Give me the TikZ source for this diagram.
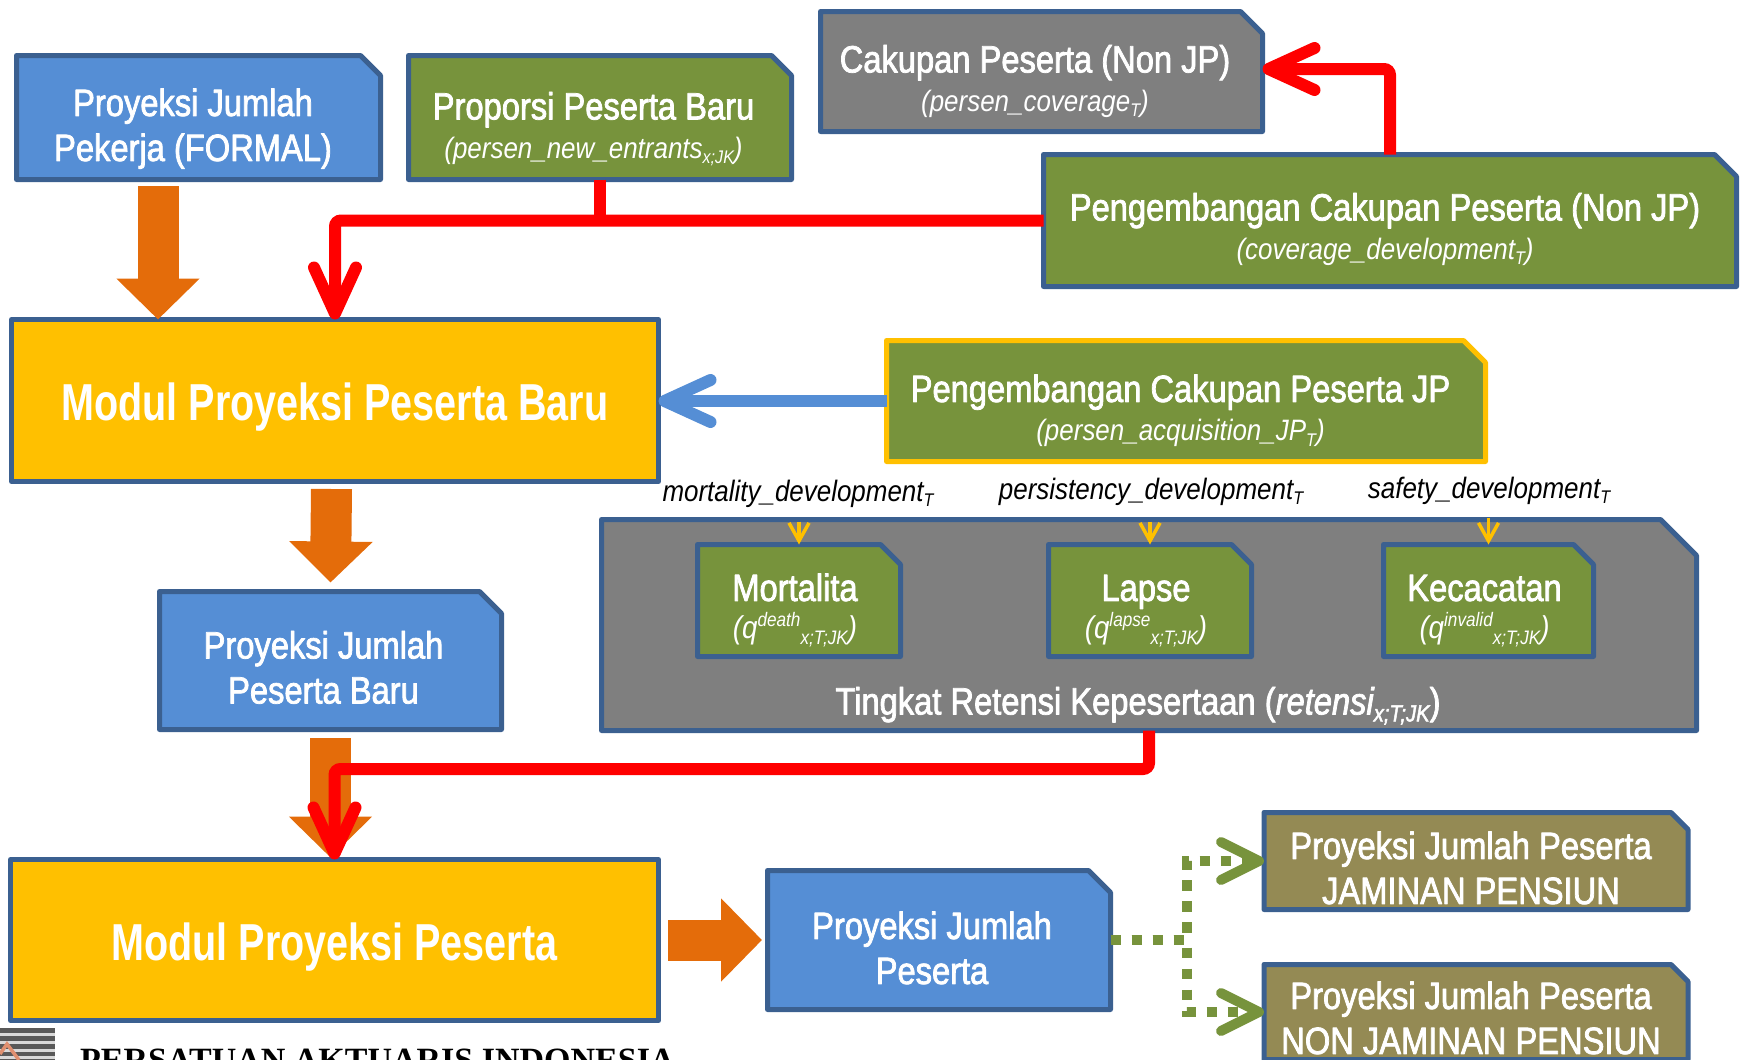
\documentclass[tikz,border=0pt]{standalone}
\usepackage{fontspec}
\usepackage{graphicx}
\usetikzlibrary{arrows.meta}
\setmainfont{Liberation Sans}
\newfontfamily\nf[FakeStretch=0.86,FakeBold=2]{Liberation Sans}
\newfontfamily\nb[FakeStretch=0.76]{Liberation Sans}
\newfontfamily\nl[FakeStretch=0.88]{Liberation Sans}
\newfontfamily\srf{Liberation Serif}
\definecolor{bd}{HTML}{3B6090}
\definecolor{blu}{HTML}{558ED5}
\definecolor{grn}{HTML}{77933C}
\definecolor{org}{HTML}{E46C0A}
\definecolor{yel}{HTML}{FFC000}
\definecolor{gry}{HTML}{7F7F7F}
\definecolor{oli}{HTML}{948A54}
\definecolor{sal}{RGB}{224,144,112}
\def\snipsize{20pt}
\makeatletter
\pgfdeclareshape{snipbox}{
  \inheritsavedanchors[from=rectangle]
  \inheritanchorborder[from=rectangle]
  \inheritanchor[from=rectangle]{center}
  \inheritanchor[from=rectangle]{north}
  \inheritanchor[from=rectangle]{south}
  \inheritanchor[from=rectangle]{east}
  \inheritanchor[from=rectangle]{west}
  \savedmacro\snipsz{\edef\snipsz{\snipsize}}
  \backgroundpath{
    \southwest \pgf@xa=\pgf@x \pgf@ya=\pgf@y
    \northeast \pgf@xb=\pgf@x \pgf@yb=\pgf@y
    \pgfpathmoveto{\pgfqpoint{\pgf@xa}{\pgf@ya}}
    \pgfpathlineto{\pgfqpoint{\pgf@xa}{\pgf@yb}}
    \pgfpathlineto{\pgfpoint{\pgf@xb-\snipsz}{\pgf@yb}}
    \pgfpathlineto{\pgfpoint{\pgf@xb}{\pgf@yb-\snipsz}}
    \pgfpathlineto{\pgfqpoint{\pgf@xb}{\pgf@ya}}
    \pgfpathclose
  }
}
\makeatother
\newcommand\tshift[3]{\raisebox{\dimexpr -#2pt - 2.5pt\relax}[0pt][0pt]{\makebox[0pt]{\hspace*{#1pt}\hspace*{#1pt}\begin{tabular}{@{}c@{}}#3\end{tabular}}}}
\newcommand\sbs[1]{\raisebox{-.35ex}{\scalebox{.62}{#1}}}
\newcommand\sps[1]{\raisebox{.75ex}{\scalebox{.62}{#1}}}
\newcommand\subl[1]{{\fontsize{29.5}{30}\selectfont\nl\itshape #1}}
\newcommand\subs[1]{{\fontsize{31.5}{29}\selectfont\nl\itshape #1}}
\tikzset{
  x=1pt,y=-1pt,
  snip/.style n args={3}{shape=snipbox,/utils/exec={\def\snipsize{#3pt}},
    draw=bd,line width=5pt,line join=round,inner sep=0pt,outer sep=0pt,
    minimum width=#1pt,minimum height=#2pt,text=white,
    font=\fontsize{38}{41}\selectfont\nf},
  plain/.style n args={2}{rectangle,draw=bd,line width=5pt,line join=round,inner sep=0pt,outer sep=0pt,
    minimum width=#1pt,minimum height=#2pt,text=white,
    font=\fontsize{52}{52}\selectfont\nb\bfseries},
  lab/.style={inner sep=0pt,font=\fontsize{29.5}{29}\selectfont\nl\itshape,text=black},
  redline/.style={draw=red,line width=12pt,rounded corners=6pt,
    -{Straight Barb[length=46pt,width=42pt,line width=12pt,round]}},
  redplain/.style={draw=red,line width=12pt,rounded corners=6pt},
  bluline/.style={draw=blu,line width=12pt,
    -{Straight Barb[length=46pt,width=42pt,line width=12pt,round]}},
  orgarrow/.style={draw=org,line width=41pt,-{Triangle[length=41pt,width=81pt]}},
  yelarrow/.style={draw=yel,line width=3.5pt,-{Straight Barb[length=18pt,width=20pt,line width=3.5pt]}},
  dots/.style={draw=grn,line width=10pt,dash pattern=on 10.5pt off 10.5pt,
    -{Straight Barb[length=38pt,width=38pt,line width=10pt,round]}}
}
\begin{document}
\begin{tikzpicture}
\useasboundingbox (0,0) rectangle (1741,1060);
% boxes
\node[snip={364}{124}{20},fill=blu] (a) at (198.5,117.5) {\tshift{-5.5}{16.5}{Proyeksi Jumlah\\[4pt]Pekerja (FORMAL)}};
\node[snip={383}{124}{20},fill=grn] (prop) at (600,117.5) {\tshift{-6.5}{17}{Proporsi Peserta Baru\\[-2pt]\subl{(persen\_new\_entrants\sbs{x;JK})}}};
\node[snip={442}{120}{22},fill=gry] (cak) at (1041.5,71.5) {\tshift{-6.5}{16}{Cakupan Peserta (Non JP)\\[-2pt]\subl{(persen\_coverage\sbs{T})}}};
\node[snip={693}{132}{22},fill=grn] (dev) at (1390,220.5) {\tshift{-5}{15}{Pengembangan Cakupan Peserta (Non JP)\\[-2pt]\subl{(coverage\_development\sbs{T})}}};
\node[plain={647}{162},fill=yel] (baru) at (335,400.5) {\tshift{0}{13}{Modul Proyeksi Peserta Baru}};
\node[snip={599}{121}{22},fill=grn,draw=yel] (jp) at (1186,401) {\tshift{-5.5}{16}{Pengembangan Cakupan Peserta JP\\[-2pt]\subl{(persen\_acquisition\_JP\sbs{T})}}};
\node[snip={342}{138}{22},fill=blu] (pb) at (330.5,660.5) {\tshift{-7}{16}{Proyeksi Jumlah\\[4pt]Peserta Baru}};
\node[snip={1095}{211}{36},fill=gry] (ret) at (1149,625) {\tshift{-11}{85}{Tingkat Retensi Kepesertaan (\textit{retensi\sbs{x;T;JK}})}};
\node[snip={203}{112}{20},fill=grn] (mor) at (799,600.5) {\tshift{-4}{15}{Mortalita\\[-3pt]\subs{(q\sps{death}\sbs{x;T;JK})}}};
\node[snip={203}{112}{20},fill=grn] (lap) at (1150,600.5) {\tshift{-4}{15}{Lapse\\[-3pt]\subs{(q\sps{lapse}\sbs{x;T;JK})}}};
\node[snip={210}{112}{20},fill=grn] (kec) at (1488.5,600.5) {\tshift{-4}{15}{Kecacatan\\[-3pt]\subs{(q\sps{invalid}\sbs{x;T;JK})}}};
\node[plain={648}{161},fill=yel] (mp) at (334.5,940) {\tshift{0}{13}{Modul Proyeksi Peserta}};
\node[snip={343}{139}{22},fill=blu] (prj) at (939,940) {\tshift{-7}{17}{Proyeksi Jumlah\\[4pt]Peserta}};
\node[snip={424}{97}{17},fill=oli] (jam) at (1476,861) {\tshift{-5}{16}{Proyeksi Jumlah Peserta\\[4pt]JAMINAN PENSIUN}};
\node[snip={424}{95}{17},fill=oli] (non) at (1476,1012) {\tshift{-5}{15}{Proyeksi Jumlah Peserta\\[4pt]NON JAMINAN PENSIUN}};
% labels above retention box
\node[lab] (lm) at (798,493.5) {mortality\_development\sbs{T}};
\node[lab] (ll) at (1151,491.5) {persistency\_development\sbs{T}};
\node[lab] (ls) at (1489,490.5) {safety\_development\sbs{T}};
% orange block arrows
\draw[orgarrow] ([xshift=-40.5pt,yshift=-6.5pt]a.south) -- ([xshift=-177pt]baru.north);
\draw[orgarrow] ([xshift=-3.5pt,yshift=-7.5pt]baru.south) -- ([yshift=9pt]pb.north);
\draw[orgarrow] ([yshift=-8.5pt]pb.south) -- ([xshift=-4pt,yshift=2pt]mp.north);
\draw[orgarrow] ([xshift=9.5pt]mp.east) -- ([xshift=-5.5pt]prj.west);
% red connectors
\draw[redplain] (prop.south) -- (prop.south |- dev.west);
\draw[redline] (dev.west) -| (baru.north);
\draw[redline] (dev.north) |- ([yshift=2.5pt]cak.east);
\coordinate (bend) at (334.5,769);
\draw[redline] (ret.south) |- (bend) -- (mp.north);
% blue connector
\draw[bluline] (jp.west) -- (baru.east |- jp.west);
% yellow small arrows
\draw[yelarrow] ([yshift=23pt]mor.north) -- (mor.north);
\draw[yelarrow] ([yshift=23pt]lap.north) -- (lap.north);
\draw[yelarrow] ([yshift=27pt]kec.north) -- (kec.north);
% green dotted connectors
\coordinate (sw) at (1187,940);
\draw[dots] (prj.east) -- (sw) |- (jam.west);
\draw[dots] (prj.east) -- (sw) |- (non.west);
% logo
\fill[black!65] (0,1028) rectangle (55,1060);
\foreach \yy in {1033,1041,1049,1056} \fill[black!15] (0,\yy) rectangle (55,\yy+3);
\draw[draw=sal,line width=3.5pt] (0,1054) -- (7,1044) -- (19,1060);
\node[anchor=base west,inner sep=0pt,font=\fontsize{34}{34}\selectfont\srf\bfseries,text=black] (org) at (80,1071) {PERSATUAN AKTUARIS INDONESIA};
\end{tikzpicture}
\end{document}
